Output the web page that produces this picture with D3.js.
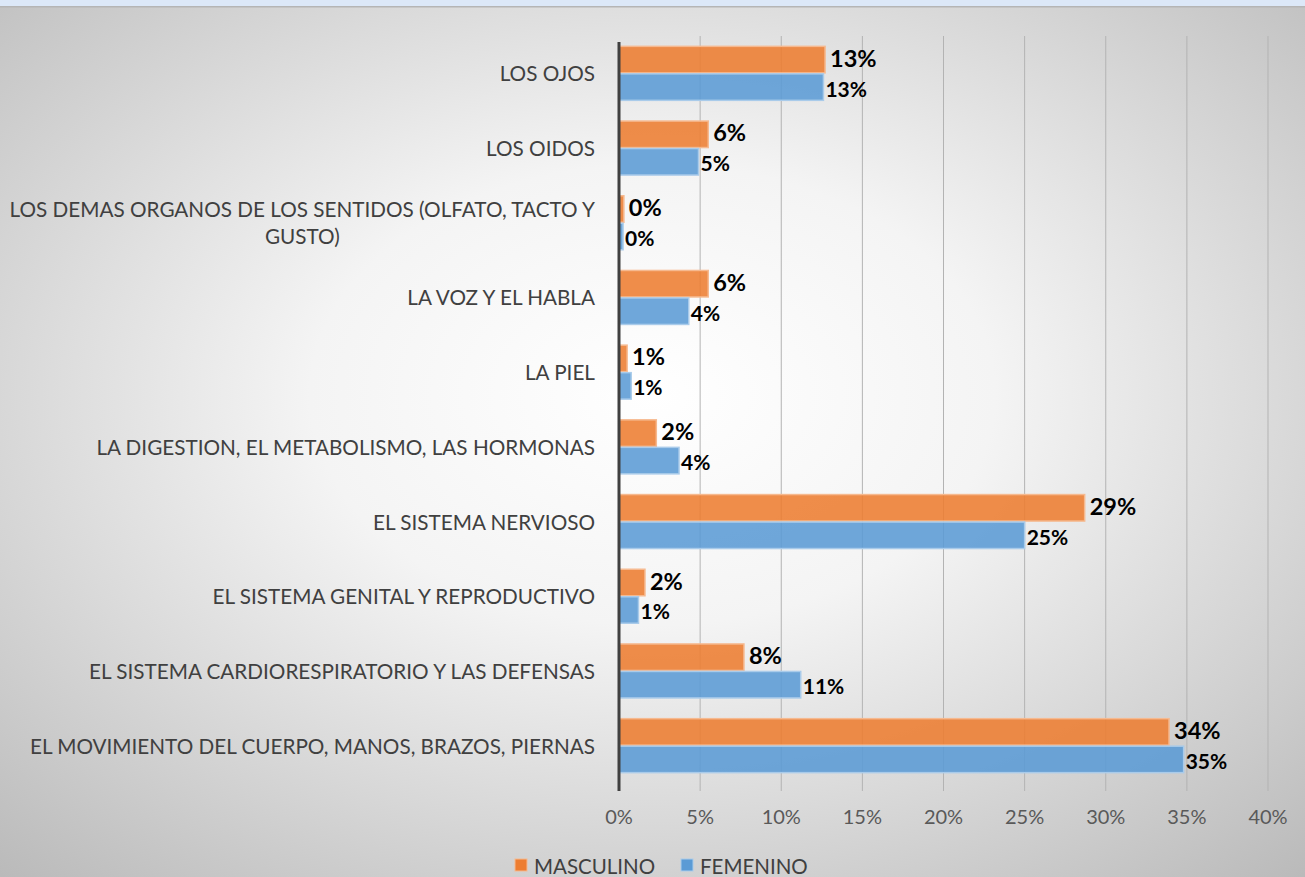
<!DOCTYPE html>
<html><head><meta charset="utf-8">
<script src="https://cdn.jsdelivr.net/npm/d3@7"></script>
<style>html,body{margin:0;padding:0;overflow:hidden;background:#fff}</style>
</head><body>
<svg id="chart" width="1305" height="877"></svg>
<script>
const categories = [
  "LOS OJOS",
  "LOS OIDOS",
  "LOS DEMAS ORGANOS DE LOS SENTIDOS (OLFATO, TACTO Y|GUSTO)",
  "LA VOZ Y EL HABLA",
  "LA PIEL",
  "LA DIGESTION, EL METABOLISMO, LAS HORMONAS",
  "EL SISTEMA NERVIOSO",
  "EL SISTEMA GENITAL Y REPRODUCTIVO",
  "EL SISTEMA CARDIORESPIRATORIO Y LAS DEFENSAS",
  "EL MOVIMIENTO DEL CUERPO, MANOS, BRAZOS, PIERNAS"
];
const masculino = [0.127, 0.055, 0.003, 0.055, 0.005, 0.023, 0.287, 0.016, 0.077, 0.339];
const femenino  = [0.126, 0.049, 0.0025, 0.043, 0.0075, 0.037, 0.250, 0.012, 0.112, 0.348];
const seriesNames = ["MASCULINO", "FEMENINO"];
const xTicks = [0, 0.05, 0.10, 0.15, 0.20, 0.25, 0.30, 0.35, 0.40];

const W = 1305, H = 877;
const svg = d3.select("#chart");
const FONT = "Lato, 'Open Sans', sans-serif";

// background
const defs = svg.append("defs");
const rg = defs.append("radialGradient").attr("id","bg")
  .attr("cx","0.5").attr("cy","0.45").attr("r","0.75");
rg.append("stop").attr("offset","0").attr("stop-color","#ffffff");
rg.append("stop").attr("offset","0.35").attr("stop-color","#f4f4f4");
rg.append("stop").attr("offset","1").attr("stop-color","#b9b9b9");
svg.append("rect").attr("width",W).attr("height",H).attr("fill","url(#bg)");
svg.append("rect").attr("width",W).attr("height",6).attr("fill","#dce8f8");
svg.append("rect").attr("y",6).attr("width",W).attr("height",1.5).attr("fill","#b5b5b5");

const x = d3.scaleLinear().domain([0, 0.40]).range([619, 1268]);
const y = d3.scaleBand().domain(d3.range(categories.length)).range([36, 783])
  .paddingInner(0.264).paddingOuter(0.132);
const sub = d3.scaleBand().domain(seriesNames).range([0, y.bandwidth()]);

const colors = {MASCULINO: {fill:"#ed7d31", stroke:"#f6b98f"}, FEMENINO: {fill:"#5b9bd5", stroke:"#a9cbea"}};

// gridlines
svg.append("g").selectAll("line").data(xTicks.slice(1)).join("line")
  .attr("x1", d=>x(d)).attr("x2", d=>x(d)).attr("y1", 36).attr("y2", 791)
  .attr("stroke","#b3b3b3").attr("stroke-width",1);

// bars
const data = [];
categories.forEach((c,i)=>{
  data.push({i, s:"MASCULINO", v:masculino[i]});
  data.push({i, s:"FEMENINO", v:femenino[i]});
});
svg.append("g").selectAll("rect").data(data).join("rect")
  .attr("x", x(0)).attr("y", d=>y(d.i)+sub(d.s)+0.5)
  .attr("width", d=>x(d.v)-x(0)).attr("height", sub.bandwidth()-1)
  .attr("fill", d=>colors[d.s].fill).attr("fill-opacity",0.88)
  .attr("stroke", d=>colors[d.s].stroke).attr("stroke-width",1.5);

// value labels
svg.append("g").selectAll("text").data(data).join("text")
  .attr("x", d=>x(d.v)+ (d.s==="MASCULINO"?5:2))
  .attr("y", d=>y(d.i)+sub(d.s)+sub.bandwidth()/2 + (d.s==="MASCULINO"?-2:1))
  .attr("dominant-baseline","central")
  .attr("font-family", FONT).attr("font-weight","bold")
  .attr("font-size", d=>d.s==="MASCULINO"?23.5:21)
  .attr("fill","#000")
  .text(d=>Math.round(d.v*100)+"%");

// axis line
svg.append("line").attr("x1",x(0)).attr("x2",x(0)).attr("y1",42).attr("y2",791)
  .attr("stroke","#404040").attr("stroke-width",3);

// x axis tick labels
svg.append("g").selectAll("text").data(xTicks).join("text")
  .attr("x", d=>x(d)).attr("y", 816).attr("text-anchor","middle")
  .attr("dominant-baseline","central")
  .attr("font-family", FONT).attr("font-size",20).attr("fill","#595959")
  .text(d=>Math.round(d*100)+"%");

// category labels
const catG = svg.append("g");
const CF = 20.7;
categories.forEach((c,i)=>{
  const lines = c.split("|");
  const cy = y(i) + y.bandwidth()/2;
  if (lines.length === 1) {
    catG.append("text").attr("x",595).attr("y",cy).attr("text-anchor","end")
      .attr("dominant-baseline","central")
      .attr("font-family",FONT).attr("font-size",CF).attr("fill","#404040").text(c);
  } else {
    const lh = 27;
    const t0 = catG.append("text").attr("x",595).attr("y",cy - lh/2).attr("text-anchor","end")
      .attr("dominant-baseline","central")
      .attr("font-family",FONT).attr("font-size",CF).attr("fill","#404040").text(lines[0]);
    const w0 = t0.node().getComputedTextLength();
    catG.append("text").attr("x",595 - w0/2).attr("y",cy + lh/2).attr("text-anchor","middle")
      .attr("dominant-baseline","central")
      .attr("font-family",FONT).attr("font-size",CF).attr("fill","#404040").text(lines[1]);
  }
});

// legend
const leg = svg.append("g");
const legX = [515, 681];
seriesNames.forEach((s,k)=>{
  leg.append("rect").attr("x",legX[k]).attr("y",859).attr("width",12).attr("height",12)
    .attr("fill",colors[s].fill).attr("stroke",colors[s].stroke);
  leg.append("text").attr("x",legX[k]+19).attr("y",866).attr("dominant-baseline","central")
    .attr("font-family",FONT).attr("font-size",20.5).attr("fill","#404040").text(s);
});
</script>
</body></html>
